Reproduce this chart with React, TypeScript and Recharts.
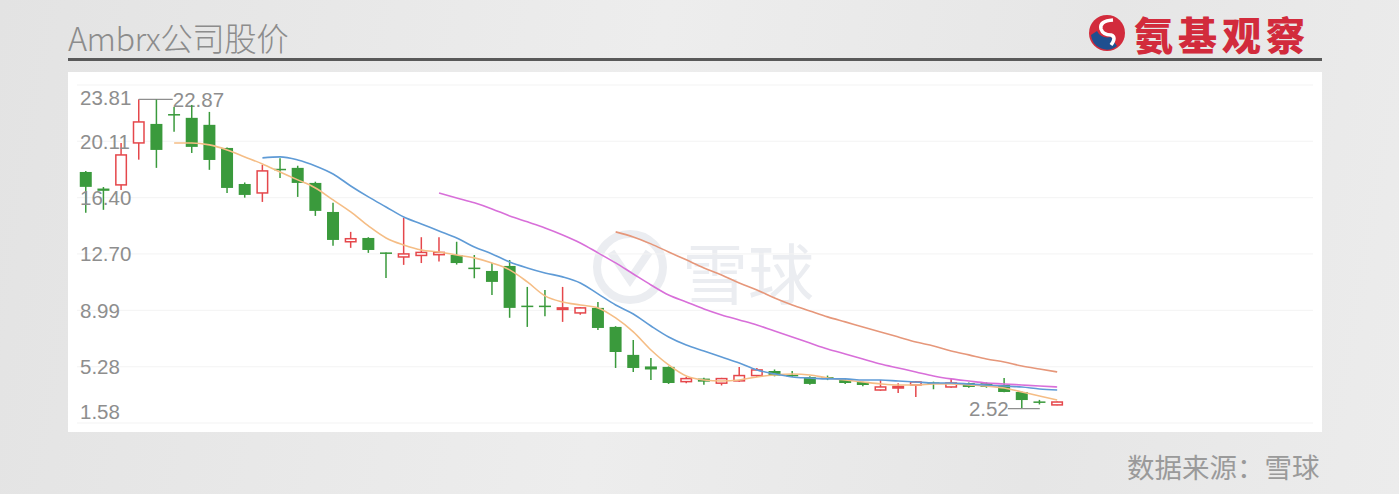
import React from 'react';
import { ComposedChart, Bar, Line, XAxis, YAxis, CartesianGrid } from 'recharts';

// daily candles (oldest -> newest)
const opens = [
  18.09, 17.0, 17.24, 20.0, 21.25, 21.9, 21.65, 21.19, 19.67, 17.3,
  16.71, 18.3, 18.36, 17.37, 15.46, 13.5, 13.75, 12.8, 12.5, 12.6,
  12.65, 12.63, 11.8, 11.58, 11.91, 9.3, 9.3, 9.05, 8.82, 9.15,
  7.9, 6.06, 5.3, 5.27, 4.3, 4.5, 4.2, 4.35, 4.7, 5.0,
  4.75, 4.6, 4.6, 4.41, 4.28, 3.75, 3.9, 4.08, 4.25, 3.95,
  4.21, 4.2, 4.08, 3.62, 3.0, 2.77,
];
const closes = [
  17.11, 16.85, 19.21, 21.38, 19.54, 21.8, 19.74, 18.88, 17.04, 16.58,
  18.16, 18.2, 17.37, 15.53, 13.62, 13.7, 12.96, 12.7, 12.7, 12.8,
  12.8, 12.1, 11.7, 10.86, 9.15, 9.2, 9.2, 9.15, 9.15, 7.83,
  6.25, 5.2, 5.1, 4.21, 4.5, 4.3, 4.5, 4.7, 5.07, 4.7,
  4.65, 4.15, 4.5, 4.21, 4.08, 3.95, 3.98, 4.28, 4.18, 4.21,
  3.95, 3.95, 3.62, 3.09, 2.92, 2.96,
];
const highs = [
  18.16, 17.1, 20.0, 22.87, 22.85, 22.37, 22.5, 22.04, 19.7, 17.4,
  18.56, 19.0, 18.5, 17.45, 16.06, 14.15, 13.8, 12.8, 15.07, 13.8,
  13.8, 13.5, 12.63, 12.1, 12.3, 10.53, 10.33, 10.53, 9.2, 9.54,
  7.95, 7.04, 5.86, 5.3, 4.6, 4.55, 4.55, 5.27, 5.2, 5.1,
  5.0, 4.65, 4.7, 4.5, 4.3, 4.41, 4.2, 4.35, 4.3, 4.54,
  4.25, 4.25, 4.54, 3.65, 3.1, 3.0,
];
const lows = [
  15.4, 15.6, 16.9, 18.9, 18.36, 20.73, 19.34, 18.23, 16.7, 16.4,
  16.12, 17.7, 16.45, 15.2, 13.23, 13.1, 12.77, 11.12, 11.98, 12.1,
  12.2, 12.0, 11.1, 10.0, 8.5, 7.9, 8.6, 8.23, 8.7, 7.7,
  5.2, 4.94, 4.41, 4.15, 4.2, 4.1, 4.05, 4.3, 4.6, 4.65,
  4.6, 4.1, 4.4, 4.15, 4.0, 3.7, 3.55, 3.29, 3.8, 3.9,
  3.9, 3.9, 3.6, 2.52, 2.8, 2.75,
];

// moving averages as drawn (null = not yet drawn)
const ma5 = [
  null, null, null, null, null, 20.0, 20.0, 19.87, 19.54, 19.08,
  18.62, 18.09, 17.57, 17.04, 16.25, 15.46, 14.54, 13.75, 13.29, 12.96,
  12.83, 12.63, 12.44, 12.1, 11.65, 10.86, 9.94, 9.54, 9.34, 9.15,
  8.49, 7.57, 6.38, 5.4, 4.67, 4.41, 4.34, 4.41, 4.61, 4.74,
  4.8, 4.74, 4.54, 4.41, 4.28, 4.15, 4.08, 4.08, 4.15, 4.15,
  4.08, 4.01, 3.88, 3.62, 3.36, 3.09,
];
const ma10 = [
  null, null, null, null, null, null, null, null, null, null,
  19.02, 19.08, 18.88, 18.49, 17.96, 17.17, 16.45, 15.79, 15.13, 14.67,
  14.21, 13.75, 13.16, 12.7, 12.17, 11.78, 11.45, 11.19, 10.79, 10.07,
  9.34, 8.75, 7.96, 7.24, 6.71, 6.32, 5.92, 5.53, 5.07, 4.81,
  4.61, 4.54, 4.48, 4.48, 4.41, 4.41, 4.34, 4.28, 4.21, 4.21,
  4.15, 4.08, 4.01, 3.95, 3.82, 3.75,
];
const ma20 = [
  null, null, null, null, null, null, null, null, null, null,
  null, null, null, null, null, null, null, null, null, null,
  16.71, 16.38, 16.06, 15.66, 15.2, 14.81, 14.41, 13.95, 13.42, 12.77,
  12.11, 11.38, 10.66, 10.0, 9.54, 9.08, 8.69, 8.36, 8.03, 7.63,
  7.24, 6.84, 6.45, 6.12, 5.79, 5.46, 5.2, 4.94, 4.67, 4.48,
  4.34, 4.21, 4.15, 4.08, 4.01, 3.95,
];
const ma30 = [
  null, null, null, null, null, null, null, null, null, null,
  null, null, null, null, null, null, null, null, null, null,
  null, null, null, null, null, null, null, null, null, null,
  14.15, 13.82, 13.36, 12.83, 12.31, 11.78, 11.32, 10.79, 10.33, 9.8,
  9.34, 8.95, 8.56, 8.23, 7.9, 7.57, 7.24, 6.91, 6.65, 6.32,
  6.06, 5.79, 5.59, 5.33, 5.13, 4.94,
];

const yTicks = [1.58, 5.28, 8.99, 12.7, 16.4, 20.11, 23.81];

const data = opens.map((o, i) => ({
  day: i + 1,
  open: o,
  close: closes[i],
  high: highs[i],
  low: lows[i],
  range: [lows[i], highs[i]],
  ma5: ma5[i],
  ma10: ma10[i],
  ma20: ma20[i],
  ma30: ma30[i],
}));

const maxHigh = Math.max(...highs);
const minLow = Math.min(...lows);

const UP = '#e5474b';
const DOWN = '#3a9a3c';
const LABEL = '#8e8e8e';
const NUM_FONT = "'Liberation Sans', Arial, sans-serif";

const Candle = (props: any) => {
  const { x, y, width, height, payload } = props;
  if (!payload || payload.high == null) return null;
  const { open, close, high, low } = payload;
  const top = Math.min(y, y + height);
  const h = Math.abs(height);
  const k = h / (high - low);
  const yOf = (v: number) => top + (high - v) * k;
  const cx = x + width / 2;
  const up = close >= open;
  const color = up ? UP : DOWN;
  const bw = 12;
  const bTop = yOf(Math.max(open, close));
  const bH = Math.max(Math.abs(yOf(open) - yOf(close)), 1.5);
  return (
    <g>
      <line x1={cx} x2={cx} y1={top} y2={top + h} stroke={color} strokeWidth={1.5} />
      <rect
        x={cx - bw / 2 + (up ? 0.75 : 0)}
        y={bTop}
        width={bw - (up ? 1.5 : 0)}
        height={bH}
        fill={up ? '#fff' : color}
        stroke={color}
        strokeWidth={up ? 1.5 : 0}
      />
      {high === maxHigh && (
        <g>
          <line x1={cx} x2={cx + 34} y1={top} y2={top} stroke={LABEL} strokeWidth={1.2} />
          <text x={cx + 34} y={top} dominantBaseline="central" fill={LABEL} fontSize={20.5}
            fontFamily={NUM_FONT}>{high.toFixed(2)}</text>
        </g>
      )}
      {low === minLow && (
        <g>
          <line x1={cx - 14} x2={cx + 18} y1={top + h} y2={top + h} stroke={LABEL} strokeWidth={1.2} />
          <text x={cx - 13} y={top + h} dominantBaseline="central" textAnchor="end" fill={LABEL}
            fontSize={20.5} fontFamily={NUM_FONT}>{low.toFixed(2)}</text>
        </g>
      )}
    </g>
  );
};

const YTick = (props: any) => {
  const { y, payload } = props;
  const v = payload.value;
  const dy = v === yTicks[yTicks.length - 1] ? 12 : v === yTicks[0] ? -12 : 0;
  return (
    <text x={80} y={y + dy} dominantBaseline="central" textAnchor="start" fill={LABEL} fontSize={20.5}
      fontFamily={NUM_FONT}>
      {v.toFixed(2)}
    </text>
  );
};

const Logo = () => (
  <svg width={40} height={40} viewBox="0 0 40 40" style={{ position: 'absolute', left: 1087, top: 13 }}>
    <circle cx={20} cy={20} r={18} fill="#d22b3c" />
    <path d="M4 22 A16 16 0 0 0 30 33 L24 24 Q14 26 10 18 Z" fill="#1f4f8f" />
    <path d="M26 7 Q12 8 14 16 Q16 22 24 22 Q30 24 24 32" stroke="#fff" strokeWidth={3.5} fill="none" />
  </svg>
);

export default function App() {
  return (
    <div style={{ position: 'absolute', left: 0, top: 0, width: 1399, height: 494, overflow: 'hidden',
      background: 'linear-gradient(100deg, #e3e3e3 0%, #ededed 45%, #e6e6e6 75%, #ececec 100%)' }}>
      <div style={{ position: 'absolute', left: 68, top: 13, fontSize: 32.5, color: '#8c8c8c',
        fontFamily: "'Noto Sans CJK SC', 'Noto Sans', sans-serif", fontWeight: 300, letterSpacing: -0.5 }}>
        Ambrx公司股价
      </div>
      <div style={{ position: 'absolute', left: 68, top: 58, width: 1254, height: 3, background: '#595959' }} />
      <Logo />
      <div style={{ position: 'absolute', left: 1134, top: 5, fontSize: 39, fontWeight: 900, color: '#d22b3c',
        fontFamily: "'Noto Sans CJK SC', sans-serif", letterSpacing: 5 }}>
        氨基观察
      </div>
      <div style={{ position: 'absolute', left: 68, top: 72, width: 1254, height: 360, background: '#fff' }} />
      {/* 雪球 watermark */}
      <svg width={90} height={90} style={{ position: 'absolute', left: 585, top: 222 }}>
        <circle cx={45} cy={45} r={33} stroke="#ebedf1" strokeWidth={8} fill="none" />
        <path d="M26 30 L45 58 L64 30" stroke="#ebedf1" strokeWidth={8} fill="none" />
      </svg>
      <div style={{ position: 'absolute', left: 682, top: 222, fontSize: 66, color: '#ebedf1',
        fontFamily: "'Noto Sans CJK SC', sans-serif" }}>
        雪球
      </div>
      <div style={{ position: 'absolute', left: 0, top: 0 }}>
        <ComposedChart width={1399} height={494} data={data}
          margin={{ top: 85, right: 86, bottom: 71, left: 77 }}>
          <CartesianGrid vertical={false} stroke="#f3f3f3" />
          <XAxis dataKey="day" hide padding={{ left: 0, right: 247 }} />
          <YAxis domain={[yTicks[0], yTicks[yTicks.length - 1]]} ticks={yTicks} width={40} mirror
            interval={0} axisLine={false} tickLine={false} tick={<YTick />} allowDataOverflow />
          <Bar dataKey="range" shape={<Candle />} isAnimationActive={false} />
          <Line type="monotone" dataKey="ma5" stroke="#f5bd85" strokeWidth={1.6} dot={false} isAnimationActive={false} />
          <Line type="monotone" dataKey="ma10" stroke="#5f9bd6" strokeWidth={1.6} dot={false} isAnimationActive={false} />
          <Line type="monotone" dataKey="ma20" stroke="#d86fd9" strokeWidth={1.6} dot={false} isAnimationActive={false} />
          <Line type="monotone" dataKey="ma30" stroke="#e6977a" strokeWidth={1.6} dot={false} isAnimationActive={false} />
        </ComposedChart>
      </div>
      <div style={{ position: 'absolute', left: 1127, top: 446, fontSize: 27.5, color: '#9a9a9a',
        fontFamily: "'Noto Sans CJK SC', sans-serif" }}>
        数据来源：雪球
      </div>
    </div>
  );
}
